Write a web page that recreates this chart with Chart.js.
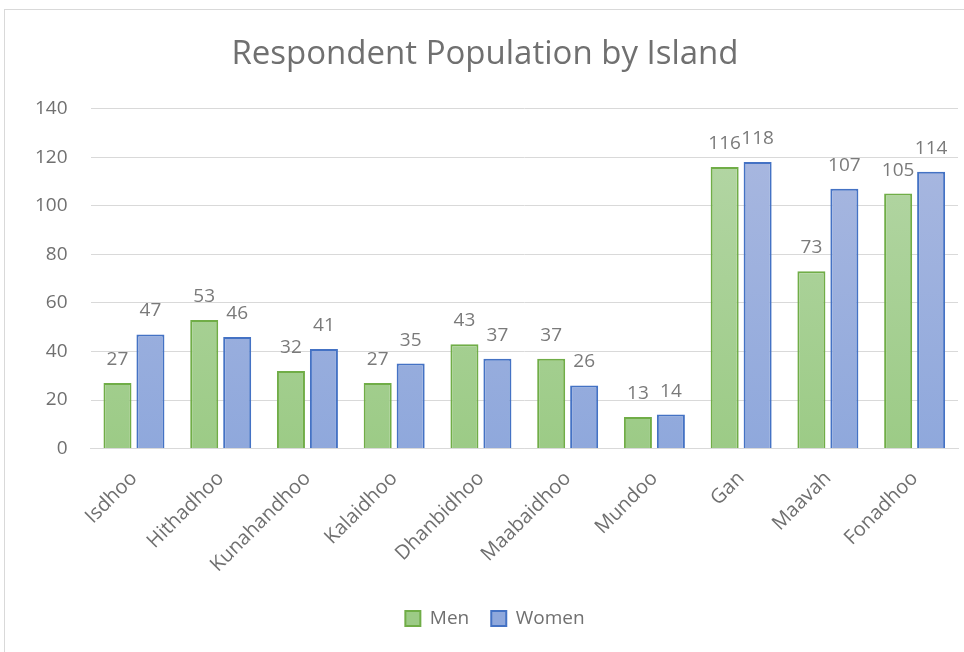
<!DOCTYPE html>
<html>
<head>
<meta charset="utf-8">
<script src="https://cdn.jsdelivr.net/npm/chart.js@4.4.0/dist/chart.umd.min.js"></script>
<style>
    html, body { margin: 0; padding: 0; background: #fff; }
    #frame {
        position: absolute; left: 4px; top: 9px; width: 980px; height: 660px;
        border: 1px solid #d9d9d9; box-sizing: border-box;
    }
    #wrap { position: absolute; left: 0; top: 0; width: 964px; height: 652px; }
</style>
</head>
<body>
<div id="frame"></div>
<div id="wrap"><canvas id="popChart" width="964" height="652"></canvas></div>
<script>
const islands = ['Isdhoo', 'Hithadhoo', 'Kunahandhoo', 'Kalaidhoo', 'Dhanbidhoo', 'Maabaidhoo', 'Mundoo', 'Gan', 'Maavah', 'Fonadhoo'];
const men = [27, 53, 32, 27, 43, 37, 13, 116, 73, 105];
const women = [47, 46, 41, 35, 37, 26, 14, 118, 107, 114];
const yTicks = [0, 20, 40, 60, 80, 100, 120, 140];

const fontFamily = '"Open Sans", sans-serif';

function gradient(context, top, bottom) {
    const chart = context.chart;
    const area = chart.chartArea;
    if (!area) return bottom;
    const g = chart.ctx.createLinearGradient(0, area.top, 0, area.bottom);
    g.addColorStop(0, top);
    g.addColorStop(1, bottom);
    return g;
}

// draws the value above each bar
const valueLabels = {
    id: 'valueLabels',
    afterDatasetsDraw(chart) {
        const ctx = chart.ctx;
        ctx.save();
        ctx.font = '19px ' + fontFamily;
        ctx.fillStyle = '#7a7a7a';
        ctx.textAlign = 'center';
        ctx.textBaseline = 'alphabetic';
        chart.data.datasets.forEach((ds, i) => {
            chart.getDatasetMeta(i).data.forEach((bar, j) => {
                ctx.fillText(ds.data[j], bar.x, bar.y - 18);
            });
        });
        ctx.restore();
    }
};

// the original legend sits a little right of the canvas centre
const legendNudge = {
    id: 'legendNudge',
    afterLayout(chart) {
        if (chart.legend) {
            chart.legend.left += 10;
            chart.legend.right += 10;
        }
    }
};

const ctx = document.getElementById('popChart').getContext('2d');
new Chart(ctx, {
    type: 'bar',
    data: {
        labels: islands,
        datasets: [{
            label: 'Men',
            data: men,
            backgroundColor: c => gradient(c, '#b6d7a8', '#9ccb86'),
            borderColor: '#70ad47',
            borderWidth: 2,
            barPercentage: 0.85,
            categoryPercentage: 0.76
        }, {
            label: 'Women',
            data: women,
            backgroundColor: c => gradient(c, '#abb9e0', '#8fa8dc'),
            borderColor: '#4472c4',
            borderWidth: 2,
            barPercentage: 0.85,
            categoryPercentage: 0.76
        }]
    },
    options: {
        responsive: false,
        animation: false,
        layout: { padding: { left: 12, right: 6, top: 35, bottom: 14 } },
        plugins: {
            title: {
                display: true,
                text: 'Respondent Population by Island',
                color: '#707070',
                font: { family: fontFamily, size: 33, weight: 'normal' },
                padding: { top: 0, bottom: 34 }
            },
            legend: {
                position: 'bottom',
                labels: {
                    color: '#707070',
                    font: { family: fontFamily, size: 19 },
                    boxWidth: 15,
                    boxHeight: 15,
                    padding: 22
                }
            },
            tooltip: { enabled: false }
        },
        scales: {
            x: {
                grid: { display: false },
                border: { color: '#d9d9d9' },
                afterFit: axis => { axis.paddingLeft = 0; axis.paddingRight = 0; },
                ticks: {
                    color: '#707070',
                    font: { family: fontFamily, size: 20 },
                    maxRotation: 45,
                    minRotation: 45,
                    padding: 10
                }
            },
            y: {
                min: 0,
                max: 140,
                afterBuildTicks: axis => { axis.ticks = yTicks.map(v => ({ value: v })); },
                grid: { color: '#d9d9d9', lineWidth: 1, drawTicks: false },
                border: { display: false },
                ticks: {
                    color: '#707070',
                    font: { family: fontFamily, size: 19 },
                    padding: 23
                }
            }
        }
    },
    plugins: [valueLabels, legendNudge]
});
</script>
</body>
</html>
